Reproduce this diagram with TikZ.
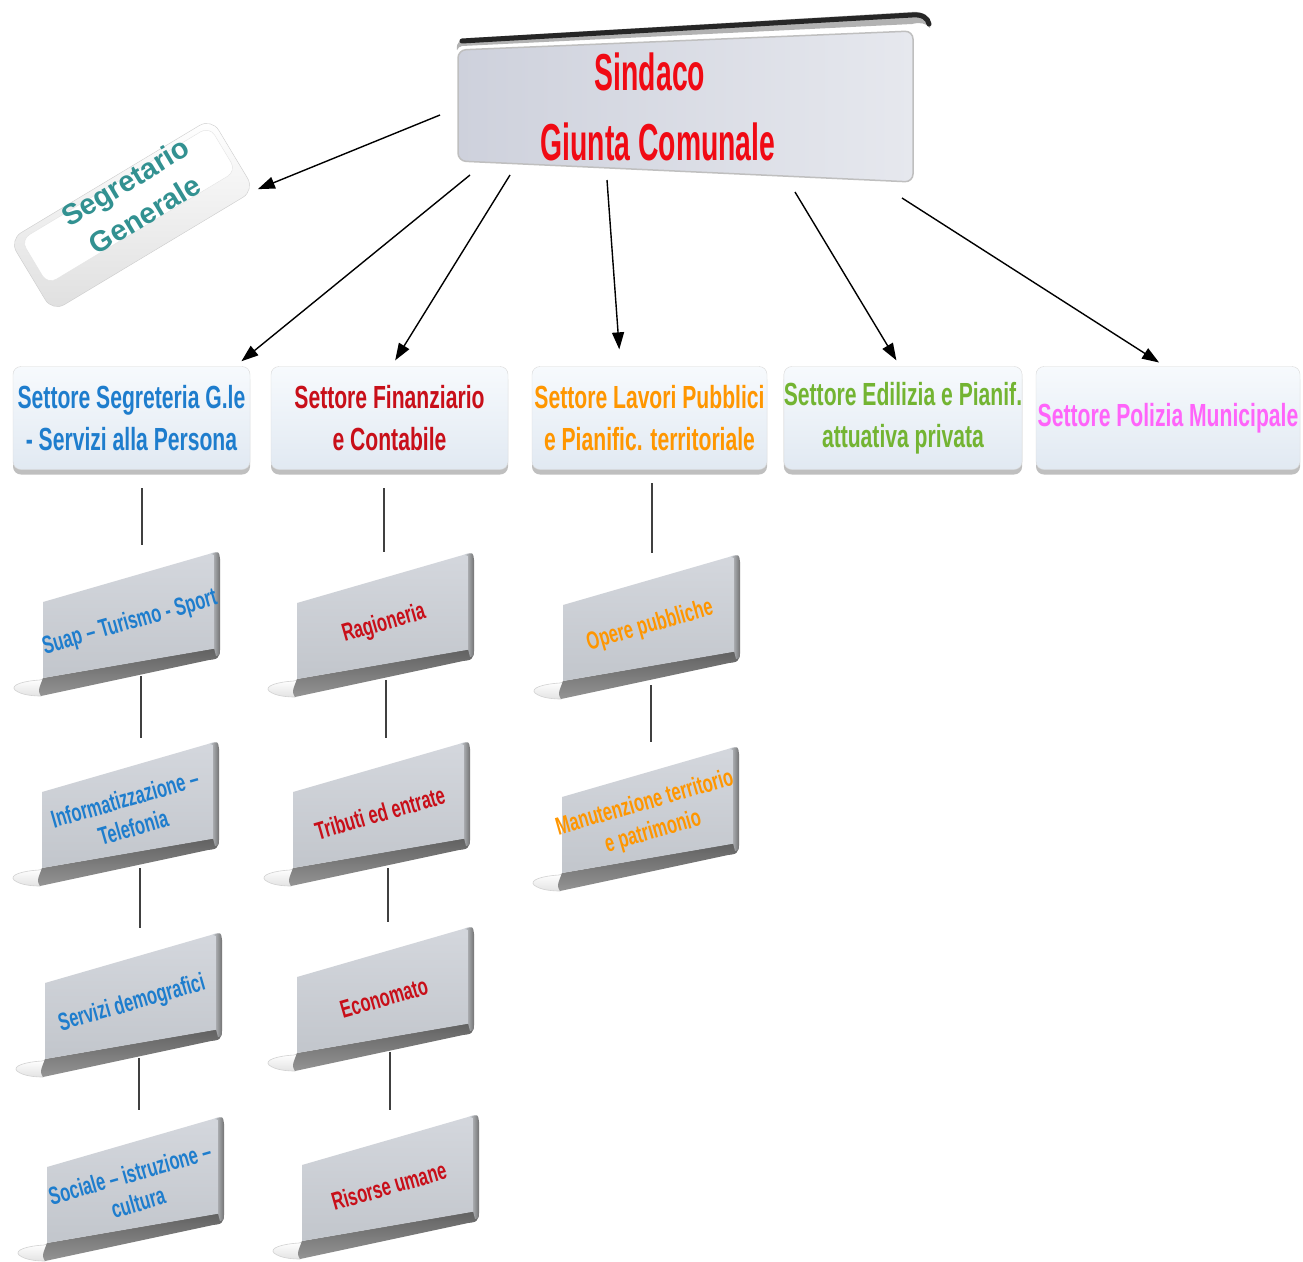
\documentclass[tikz,border=0pt]{standalone}
\usepackage{fontspec}
\setmainfont{Liberation Sans}
\newfontfamily\nar{Liberation Sans}[FakeStretch=0.66]
\newfontfamily\narx{Liberation Sans}[FakeStretch=0.545]
\usetikzlibrary{arrows.meta,shadows}
\definecolor{cblue}{RGB}{30,125,205}
\definecolor{cdred}{RGB}{200,15,25}
\definecolor{corange}{RGB}{255,150,0}
\definecolor{cgreen}{RGB}{115,180,50}
\definecolor{cmag}{RGB}{255,100,250}
\definecolor{cteal}{RGB}{50,145,145}
\definecolor{cred}{RGB}{240,10,20}
\definecolor{faceA}{RGB}{212,215,221}
\definecolor{faceB}{RGB}{194,198,204}
\definecolor{secA}{RGB}{247,250,253}
\definecolor{secB}{RGB}{225,233,242}
\definecolor{topA}{RGB}{206,209,220}
\definecolor{topB}{RGB}{230,232,238}
\newcommand{\orgbox}[5]{%
\begin{scope}[shift={(#2,#3)}]
 \shade[top color=white, bottom color=gray!22, draw=gray!35, line width=0.6pt] (0,77) -- (-3,78) .. controls (-20,79) and (-33,83) .. (-28,88) .. controls (-22,93) and (-10,94) .. (-2,94) -- cycle;
 \shade[top color=black!62, bottom color=black!42] (0,76) -- (173,46) -- (176,53) .. controls (174,57) .. (166,58) -- (-2,94) .. controls (-5,89) .. (0,76) -- cycle;
 \shade[top color=faceA, bottom color=faceB] (0,0) -- (166,-48) .. controls (174,-51) .. (175,-43) -- (175,46) -- (0,76) -- cycle;
 \shade[left color=faceB, right color=black!55] (168,-48) .. controls (176,-51) .. (177,-43) -- (177,48) .. controls (177,53) .. (173,54) -- (171,46) -- (171,-47) -- cycle;
 \node[subtxt, text=#4] (#1) at (87,21) {#5};
\end{scope}}
\begin{document}
\begin{tikzpicture}[x=1pt,y=-1pt,
  secbox/.style={rectangle, rounded corners=8pt, draw=gray!30, top color=secA, bottom color=secB,
    minimum height=103pt, inner sep=0pt, align=center,
    font=\nar\bfseries\fontsize{32}{42}\selectfont,
    drop shadow={shadow xshift=0pt, shadow yshift=-5pt, fill=black!50, opacity=0.5}},
  subtxt/.style={rotate=16, align=center, inner sep=0pt, font=\nar\bfseries\fontsize{25}{30}\selectfont},
  toptxt/.style={inner sep=0pt, text=cred, font=\narx\bfseries\fontsize{52}{60}\selectfont},
  arr/.style={-{Triangle[length=17pt,width=12pt]}, line width=1.4pt, black},
  conn/.style={line width=1.2pt, black!75}]
\useasboundingbox (0,0) rectangle (1303,1261);
\fill[white] (0,0) rectangle (1303,1261);

% ---- top box ----
\shade[left color=topA, right color=topB, draw=gray!50, line width=1.5pt, rounded corners=8pt]
  (458,50) -- (913,31) -- (913,182) -- (458,161) -- cycle;
\fill[gray!60] (457,50) .. controls (456,42) and (460,39) .. (470,38) -- (912,12) .. controls (924,11) and (932,17) .. (930,28) .. controls (926,23) and (920,22) .. (912,24) -- (462,46) .. controls (459,47) .. (457,50) -- cycle;
\draw[black!85, line width=5pt, line cap=round] (462,41) -- (912,15) .. controls (922,14) and (928,18) .. (929,24);
\node[toptxt] (sind) at (650,72) {Sindaco};
\node[toptxt] (giunta) at (658,142) {Giunta Comunale};

% ---- Segretario generale ----
\begin{scope}[shift={(132,215)}, rotate=31]
 \shade[top color=white, bottom color=gray!25, draw=gray!40, rounded corners=14pt] (-118,-42) rectangle (118,42);
 \fill[white, draw=gray!22, rounded corners=10pt] (-108,-36) rectangle (112,16);
\end{scope}
\node[rotate=31, minimum width=236pt, minimum height=84pt, inner sep=0pt] (seg) at (132,215) {};
\node[rotate=31, align=center, inner sep=0pt, text=cteal, font=\bfseries\fontsize{29}{38}\selectfont] (segtxt) at (135,198) {Segretario\\Generale};

% ---- sector boxes ----
\node[secbox, minimum width=237pt, text=cblue] (sec1) at (131.5,418) {Settore Segreteria G.le\\- Servizi alla Persona};
\node[secbox, minimum width=237pt, text=cdred] (sec2) at (389.5,418) {Settore Finanziario\\e Contabile};
\node[secbox, minimum width=235pt, text=corange] (sec3) at (649.5,418) {Settore Lavori Pubblici\\e Pianific. territoriale};
\node[secbox, minimum width=234pt, text=cgreen] (sec4) at (903,418) {Settore Edilizia e Pianif.\\attuativa privata};
\node[secbox, minimum width=264pt, text=cmag] (sec5) at (1168,418) {Settore Polizia Municipale};

% ---- arrows ----
\coordinate (o0) at (440,115);
\coordinate (o1) at (470,175);
\coordinate (o2) at (510,175);
\coordinate (o3) at (607,180);
\coordinate (o4) at (795,192);
\coordinate (o5) at (902,198);
\draw[arr, shorten >=3pt] (o0) -- (seg.south east);
\draw[arr, shorten >=8pt] (o1) -- ([xshift=-15pt]sec1.north east);
\draw[arr, shorten >=7pt] (o2) -- ([xshift=2pt]sec2.north);
\draw[arr, shorten >=17pt] (o3) -- ([xshift=-29pt]sec3.north);
\draw[arr, shorten >=7pt] (o4) -- ([xshift=-3pt]sec4.north);
\draw[arr, shorten >=7pt] (o5) -- ([xshift=-3pt]sec5.north);

% ---- sub boxes ----
\orgbox{suap}{43}{602}{cblue}{Suap – Turismo - Sport}
\orgbox{info}{42}{792}{cblue}{Informatizzazione –\\Telefonia}
\orgbox{demo}{45}{983}{cblue}{Servizi demografici}
\orgbox{soc}{47}{1167}{cblue}{Sociale – istruzione –\\cultura}
\orgbox{rag}{297}{603}{cdred}{Ragioneria}
\orgbox{trib}{293}{792}{cdred}{Tributi ed entrate}
\orgbox{econ}{297}{977}{cdred}{Economato}
\orgbox{ris}{302}{1165}{cdred}{Risorse umane}
\orgbox{ope}{563}{605}{corange}{Opere pubbliche}
\orgbox{man}{562}{797}{corange}{Manutenzione territorio\\e patrimonio}

% ---- connector end points ----
\coordinate (sec1-b) at (142,488);
\coordinate (sec2-b) at (384,488);
\coordinate (sec3-b) at (652,483);
\coordinate (suap-t) at (142,545); \coordinate (suap-b) at (141,676);
\coordinate (info-t) at (141,738); \coordinate (info-b) at (140,868);
\coordinate (demo-t) at (140,928); \coordinate (demo-b) at (139,1058);
\coordinate (soc-t) at (139,1110);
\coordinate (rag-t) at (384,552); \coordinate (rag-b) at (386,680);
\coordinate (trib-t) at (386,738); \coordinate (trib-b) at (388,868);
\coordinate (econ-t) at (388,922); \coordinate (econ-b) at (390,1052);
\coordinate (ris-t) at (390,1110);
\coordinate (ope-t) at (652,553); \coordinate (ope-b) at (651,685);
\coordinate (man-t) at (651,742);

\draw[conn] (sec1-b) -- (suap-t);
\draw[conn] (suap-b) -- (info-t);
\draw[conn] (info-b) -- (demo-t);
\draw[conn] (demo-b) -- (soc-t);
\draw[conn] (sec2-b) -- (rag-t);
\draw[conn] (rag-b) -- (trib-t);
\draw[conn] (trib-b) -- (econ-t);
\draw[conn] (econ-b) -- (ris-t);
\draw[conn] (sec3-b) -- (ope-t);
\draw[conn] (ope-b) -- (man-t);
\end{tikzpicture}
\end{document}
